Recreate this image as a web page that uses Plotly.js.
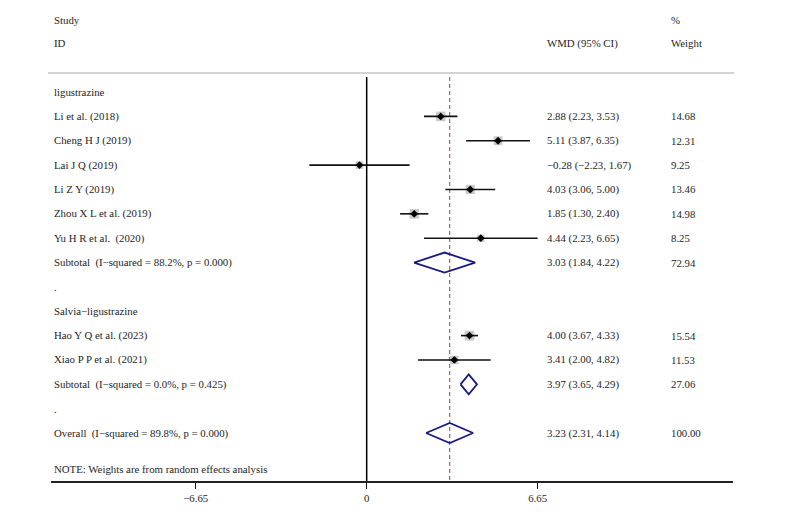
<!DOCTYPE html>
<html>
<head>
<meta charset="utf-8">
<script src="https://cdn.plot.ly/plotly-3.0.1.min.js"></script>
<style>html,body{margin:0;padding:0;background:#fff;}#chart{width:800px;height:523px;}</style>
</head>
<body>
<div id="chart"></div>
<script>
// ---- data ----
const studies = ["Li et al. (2018)", "Cheng H J (2019)", "Lai J Q (2019)", "Li Z Y (2019)", "Zhou X L et al. (2019)", "Yu H R et al.  (2020)", "Hao Y Q et al. (2023)", "Xiao P P et al. (2021)"];
const studyGroup = [0, 0, 0, 0, 0, 0, 1, 1];
const est = [2.88, 5.11, -0.28, 4.03, 1.85, 4.44, 4.00, 3.41];
const lo = [2.23, 3.87, -2.23, 3.06, 1.30, 2.23, 3.67, 2.00];
const hi = [3.53, 6.35, 1.67, 5.00, 2.40, 6.65, 4.33, 4.82];
const weights = [14.68, 12.31, 9.25, 13.46, 14.98, 8.25, 15.54, 11.53];

const groups = ["ligustrazine", "Salvia\u2212ligustrazine"];
const subLabels = ["Subtotal  (I\u2212squared = 88.2%, p = 0.000)", "Subtotal  (I\u2212squared = 0.0%, p = 0.425)"];
const subEst = [3.03, 3.97];
const subLo = [1.84, 3.65];
const subHi = [4.22, 4.29];
const subWeight = [72.94, 27.06];

const overallLabel = "Overall  (I\u2212squared = 89.8%, p = 0.000)";
const overallEst = 3.23, overallLo = 2.31, overallHi = 4.14, overallWeight = 100.00;

const tickVals = [-6.65, 0, 6.65];
const tickText = ["\u22126.65", "0", "6.65"];
const noteText = "NOTE: Weights are from random effects analysis";

// ---- layout helpers ----
const FONT = "Liberation Serif, Times New Roman, serif";
const FS = 10.8;
const TXT = "#1e1e1e";
const fmt = v => v.toFixed(2).replace("-", "\u2212");
const ciText = (e, l, h) => fmt(e) + " (" + fmt(l) + ", " + fmt(h) + ")";

// assign rows
let row = 0;
const rowsStudy = [], rowsHeader = [], rowsSub = [], rowsDot = [];
for (let g = 0; g < groups.length; g++) {
  rowsHeader.push(row++);
  for (let i = 0; i < studies.length; i++) if (studyGroup[i] === g) rowsStudy[i] = row++;
  rowsSub.push(row++);
  rowsDot.push(row++);
}
const rowOverall = row;

const annotations = [];
function txt(xp, y, s) {
  annotations.push({xref: "paper", yref: "y", x: xp, y: y, text: s, showarrow: false,
    xanchor: "left", yanchor: "middle", font: {family: FONT, size: FS, color: TXT}});
}
const colLabel = 0.0015, colCI = 0.725, colW = 0.906;
txt(colLabel, -2.96, "Study");
txt(colLabel, -2.01, "ID");
txt(colCI, -2.01, "WMD (95% CI)");
txt(colW, -2.96, "%");
txt(colW, -2.01, "Weight");
for (let g = 0; g < groups.length; g++) {
  txt(colLabel, rowsHeader[g], groups[g]);
  txt(colLabel, rowsSub[g], subLabels[g]);
  txt(colCI, rowsSub[g], ciText(subEst[g], subLo[g], subHi[g]));
  txt(colW, rowsSub[g], subWeight[g].toFixed(2));
  txt(colLabel, rowsDot[g], ".");
}
for (let i = 0; i < studies.length; i++) {
  txt(colLabel, rowsStudy[i], studies[i]);
  txt(colCI, rowsStudy[i], ciText(est[i], lo[i], hi[i]));
  txt(colW, rowsStudy[i], weights[i].toFixed(2));
}
txt(colLabel, rowOverall, overallLabel);
txt(colCI, rowOverall, ciText(overallEst, overallLo, overallHi));
txt(colW, rowOverall, overallWeight.toFixed(2));
txt(colLabel, 15.48, noteText);

// ---- traces ----
const traces = [];
const ciX = [], ciY = [];
for (let i = 0; i < studies.length; i++) { ciX.push(lo[i], hi[i], null); ciY.push(rowsStudy[i], rowsStudy[i], null); }
traces.push({type: "scatter", mode: "markers", x: est, y: rowsStudy,
  marker: {symbol: "square", color: "#b4b4b4", size: weights.map(w => 2.5 * Math.sqrt(w)), line: {width: 0}},
  hoverinfo: "skip", showlegend: false, cliponaxis: false});
traces.push({type: "scatter", mode: "lines", x: ciX, y: ciY, line: {color: "#111", width: 1.6},
  hoverinfo: "skip", showlegend: false});
traces.push({type: "scatter", mode: "markers", x: est, y: rowsStudy,
  marker: {symbol: "diamond", color: "#000", size: 6}, hoverinfo: "skip", showlegend: false});
const H = 0.41;
const dX = [], dY = [];
function diamond(e, l, h, r) { dX.push(l, e, h, e, l, null); dY.push(r, r - H, r, r + H, r, null); }
for (let g = 0; g < groups.length; g++) diamond(subEst[g], subLo[g], subHi[g], rowsSub[g]);
diamond(overallEst, overallLo, overallHi, rowOverall);
traces.push({type: "scatter", mode: "lines", x: dX, y: dY, line: {color: "#1a1a80", width: 1.8},
  hoverinfo: "skip", showlegend: false});

const yTop = -3.78, yBot = 15.97;
const lineTop = -0.62;
const layout = {
  width: 800, height: 523,
  margin: {l: 51, r: 67, t: 0, b: 42},
  paper_bgcolor: "#fff", plot_bgcolor: "#fff",
  showlegend: false,
  xaxis: {range: [-12.28, 14.25], showgrid: false, zeroline: false,
    tickvals: tickVals, ticktext: tickText, ticks: "outside", ticklen: 6, tickwidth: 1.2, tickcolor: "#111",
    showline: true, linecolor: "#222", linewidth: 2, mirror: false,
    tickfont: {family: FONT, size: FS, color: TXT}, fixedrange: true},
  yaxis: {range: [yBot, yTop], visible: false, showgrid: false, zeroline: false, fixedrange: true},
  annotations: annotations,
  shapes: [
    {type: "line", xref: "paper", yref: "y", x0: -0.0044, x1: 1.0015, y0: -0.78, y1: -0.78,
      line: {color: "#c4c4c4", width: 1.5}},
    {type: "line", xref: "x", yref: "y", x0: 0, x1: 0, y0: lineTop, y1: yBot,
      line: {color: "#000", width: 1.5}},
    {type: "line", xref: "x", yref: "y", x0: overallEst, x1: overallEst, y0: lineTop, y1: yBot,
      line: {color: "#9b3a4a", width: 1, dash: "4px,3px"}, layer: "below"}
  ]
};
Plotly.newPlot("chart", traces, layout, {displayModeBar: false, staticPlot: true});
</script>
</body>
</html>
